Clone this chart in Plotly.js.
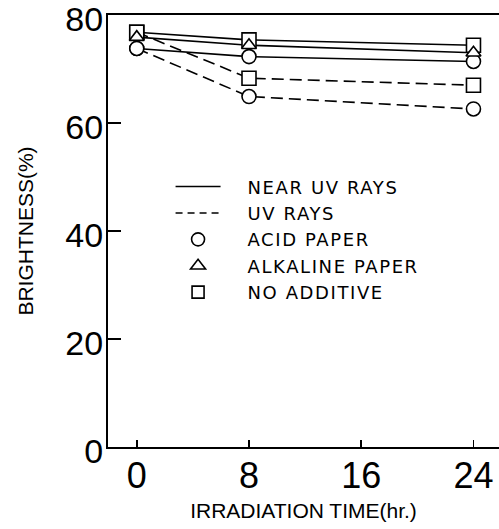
<!DOCTYPE html>
<html>
<head>
<meta charset="utf-8">
<script src="https://cdn.plot.ly/plotly-3.0.1.min.js"></script>
<style>
  html, body { margin: 0; padding: 0; background: #fff; }
  #chart { width: 499px; height: 529px; }
  /* wide-set lettering for the key */
  .legendtext { letter-spacing: 1.6px; }
</style>
</head>
<body>
<div id="chart"></div>
<script>
// Irradiation time (hours)
const hours = [0, 8, 24];
const hourTicks = [0, 8, 16, 24];
const brightnessTicks = [0, 20, 40, 60, 80];

// Brightness (%) under near-UV rays
const nearUvAcid = [73.8, 72.3, 71.4];
const nearUvAlkaline = [75.9, 74.4, 73.0];
const nearUvNoAdditive = [76.8, 75.4, 74.4];

// Brightness (%) under UV rays
const uvAcid = [73.8, 64.9, 62.6];
const uvNoAdditive = [76.8, 68.3, 67.0];

// Legend labels
const legendLabels = ['NEAR UV RAYS', 'UV RAYS', 'ACID PAPER', 'ALKALINE PAPER', 'NO ADDITIVE'];

const INK = '#000';
const LINE_W = 1.6;
const DASH = '12px,6px';
const SANS = 'Liberation Sans, Arial, sans-serif';
const KEY_PAD = '\u00a0\u00a0\u00a0';   // gap between key symbol and its label

function lineTrace(y, dash) {
  return {
    x: hours, y: y, mode: 'lines', showlegend: false, hoverinfo: 'skip',
    line: { color: INK, width: LINE_W, dash: dash }
  };
}

function markerTrace(xs, ys, symbol, size) {
  return {
    x: xs, y: ys, mode: 'markers', showlegend: false, hoverinfo: 'skip',
    marker: { symbol: symbol, size: size, color: '#fff', line: { color: INK, width: 1.6 } }
  };
}

function legendTrace(name, group, extra) {
  return Object.assign({
    x: [null], y: [null], name: KEY_PAD + name, legendgroup: group, showlegend: true, hoverinfo: 'skip'
  }, extra);
}

const data = [
  // connecting lines
  lineTrace(nearUvAcid, 'solid'),
  lineTrace(nearUvAlkaline, 'solid'),
  lineTrace(nearUvNoAdditive, 'solid'),
  lineTrace(uvAcid, DASH),
  lineTrace(uvNoAdditive, DASH),
  // paper markers
  markerTrace(hours.concat(hours), nearUvAcid.concat(uvAcid), 'circle', 14),
  markerTrace(hours.concat(hours), nearUvNoAdditive.concat(uvNoAdditive), 'square', 14),
  markerTrace(hours, nearUvAlkaline, 'triangle-up', 13),
  // legend keys
  legendTrace(legendLabels[0], 'g1', { mode: 'lines', line: { color: INK, width: LINE_W } }),
  legendTrace(legendLabels[1], 'g2', { mode: 'lines', line: { color: INK, width: LINE_W, dash: '7px,5px' } }),
  legendTrace(legendLabels[2], 'g3', { mode: 'markers', marker: { symbol: 'circle-open', size: 13, color: INK, line: { width: 1.6 } } }),
  legendTrace(legendLabels[3], 'g4', { mode: 'markers', marker: { symbol: 'triangle-up-open', size: 13, color: INK, line: { width: 1.6 } } }),
  legendTrace(legendLabels[4], 'g5', { mode: 'markers', marker: { symbol: 'square-open', size: 12, color: INK, line: { width: 1.6 } } })
];

const layout = {
  width: 499,
  height: 529,
  margin: { l: 108, r: 0, t: 15, b: 82 },
  paper_bgcolor: '#fff',
  plot_bgcolor: '#fff',
  font: { family: SANS, color: INK },
  showlegend: true,
  legend: {
    x: 0.16, y: 0.645, xanchor: 'left', yanchor: 'top',
    bgcolor: 'rgba(0,0,0,0)', borderwidth: 0,
    font: { family: 'DejaVu Sans, sans-serif', size: 18, color: INK },
    itemwidth: 45, tracegroupgap: 0, traceorder: 'normal'
  },
  xaxis: {
    range: [-2.05, 25.82],
    tickvals: hourTicks,
    ticktext: hourTicks.map(String),
    ticks: 'inside', ticklen: 7, tickwidth: 1.6, tickcolor: INK,
    showline: true, linewidth: 2, linecolor: INK, mirror: true,
    showgrid: false, zeroline: false,
    ticklabelstandoff: -4,
    tickfont: { family: SANS, size: 36, color: INK },
    title: { text: 'IRRADIATION TIME(hr.)', standoff: 8,
             font: { family: SANS, size: 21, color: INK } }
  },
  yaxis: {
    range: [0, 80],
    tickvals: brightnessTicks,
    ticktext: brightnessTicks.map(String),
    ticks: 'inside', ticklen: 13, tickwidth: 1.6, tickcolor: INK,
    showline: true, linewidth: 2, linecolor: INK, mirror: false,
    showgrid: false, zeroline: false,
    ticklabeloverflow: 'allow',
    ticklabelstandoff: -4,
    ticklabelshift: 4,
    tickfont: { family: SANS, size: 34, color: INK },
    title: { text: 'BRIGHTNESS(%)', standoff: 26,
             font: { family: SANS, size: 21, color: INK } }
  }
};

Plotly.newPlot('chart', data, layout, { staticPlot: true, displayModeBar: false });
</script>
</body>
</html>
